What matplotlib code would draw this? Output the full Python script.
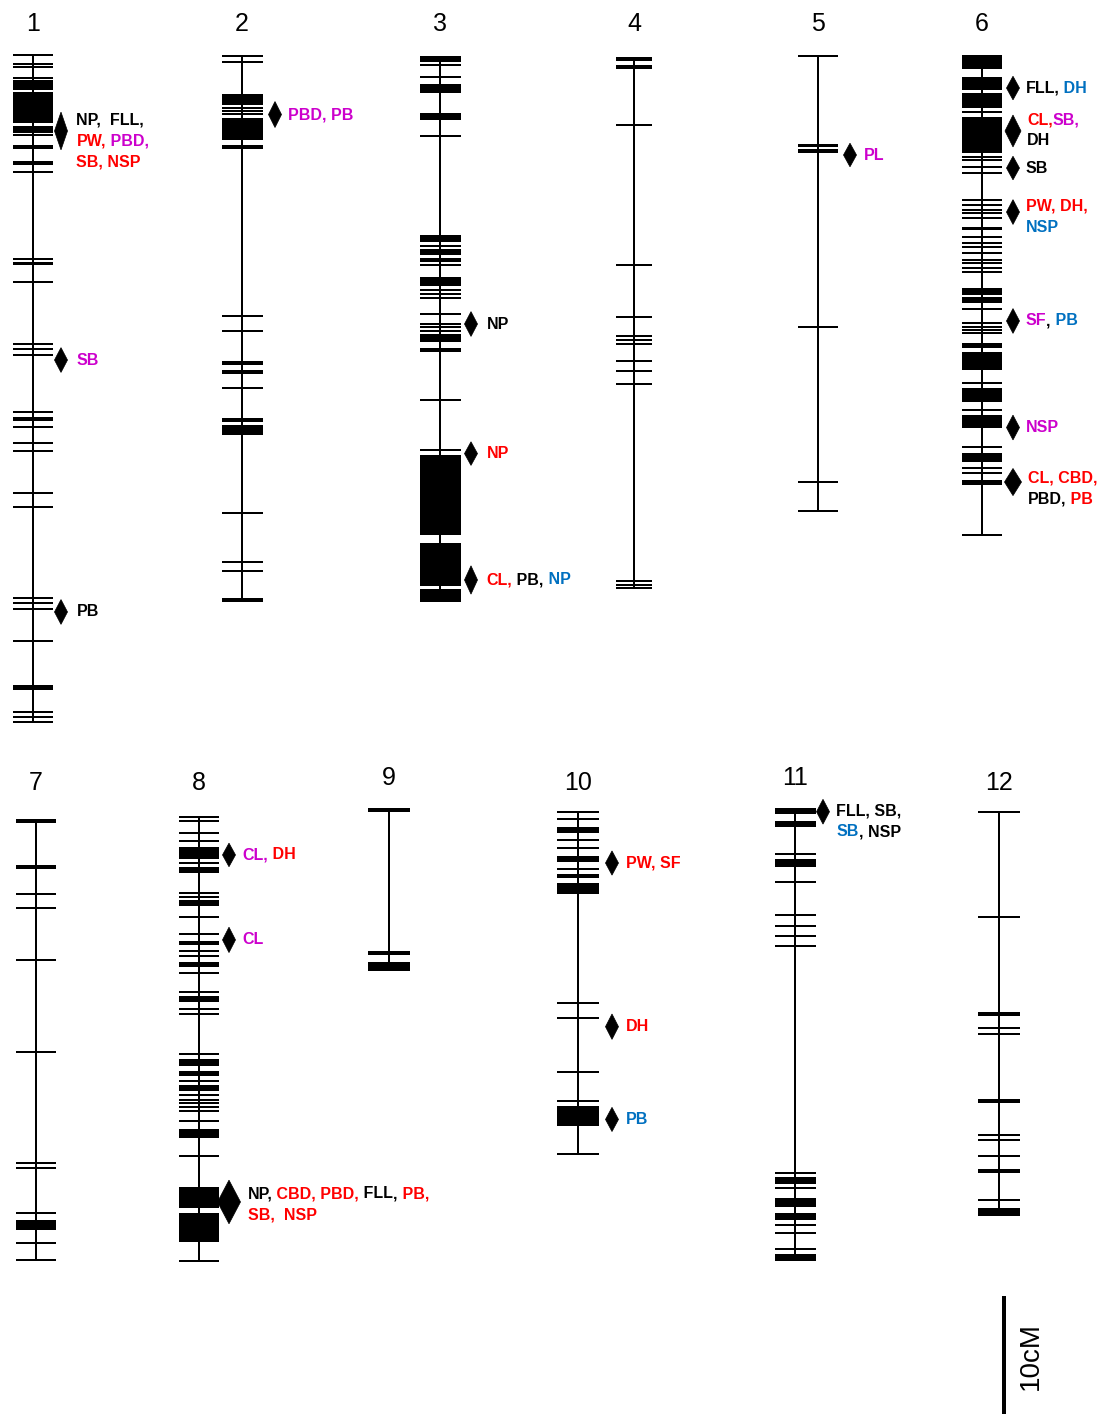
import matplotlib
matplotlib.use('Agg')
import matplotlib.pyplot as plt
from matplotlib.patches import Polygon, Rectangle

# ---- data: marker positions (cM from the top of each linkage group) ----
chr1_markers = [0, 0.8, 1.0, 1.97, 2.18, 2.35, 2.5, 2.69, 2.91, 6.08, 6.25, 6.4, 6.55, 6.78,
                7.75, 7.9, 9.05, 9.2, 9.89, 17.29, 17.6, 17.75, 19.21, 24.49, 24.94, 25.42,
                30.28, 30.8, 30.95, 31.55, 32.86, 33.53, 37.14, 38.28, 46.04, 46.47, 46.97,
                49.64, 53.45, 53.6, 53.75, 55.65, 56.08, 56.5]
chr1_blocks = [(3.11, 5.79)]

chr2_markers = [0, 0.5, 4.41, 4.65, 4.90, 7.66, 7.82, 22.07, 23.3, 25.92, 26.08, 26.67, 26.83,
                28.17, 30.77, 30.93, 38.7, 42.92, 43.64, 46.02, 46.18]
chr2_blocks = [(3.26, 4.19), (5.27, 7.12), (31.31, 32.08)]

chr3_markers = [0.70, 1.75, 6.71, 16.03, 17.72, 19.81, 20.12, 20.49, 21.87, 22.64, 22.96, 23.26,
                24.78, 24.94, 29.12, 33.34]
chr3_blocks = [(0, 0.46), (2.31, 3.08), (4.77, 5.39), (15.16, 15.71), (16.32, 16.79),
               (17.10, 17.41), (18.69, 19.47), (23.51, 24.19), (33.81, 40.52), (41.23, 44.84),
               (45.14, 46.22)]

chr4_markers = [0, 0.15, 0.67, 0.82, 5.64, 17.54, 21.96, 23.53, 23.9, 24.26, 25.71, 26.56, 27.62,
                44.32, 44.63, 44.93]
chr4_blocks = []

chr5_markers = [0, 7.5, 7.65, 8.0, 8.15, 23.0, 36.08, 38.53]
chr5_blocks = []

chr6_markers = [4.81, 8.62, 8.90, 9.47, 10.03, 12.29, 12.71, 13.14, 13.42, 13.84, 15.4, 15.96,
                16.25, 16.81, 17.37, 17.65, 18.08, 18.36, 21.55, 22.74, 23.03, 23.31, 23.58,
                27.82, 30.08, 33.19, 35.03, 35.4, 40.68]
chr6_blocks = [(0, 1.21), (1.84, 2.97), (3.25, 4.52), (5.23, 8.33), (14.55, 14.83), (19.77, 20.34),
               (20.48, 21.04), (24.43, 24.86), (25.14, 26.69), (28.25, 29.38), (30.51, 31.64),
               (33.75, 34.47), (36.02, 36.44)]

chr7_markers = [0, 0.15, 3.88, 4.04, 6.27, 7.48, 11.86, 19.69, 29.09, 29.52, 33.28, 35.87, 37.29]
chr7_blocks = [(33.9, 34.75)]

chr8_markers = [0, 0.36, 1.36, 2.06, 3.95, 6.49, 6.78, 8.53, 9.97, 10.6, 10.76, 11.36, 11.81,
                13.22, 14.83, 16.32, 16.72, 20.11, 22.37, 23.58, 24.01, 24.29, 24.63, 24.92,
                25.79, 28.75, 37.63]
chr8_blocks = [(2.59, 3.61), (4.29, 4.75), (7.06, 7.57), (12.29, 12.76), (15.19, 15.68),
               (20.56, 21.13), (21.53, 21.97), (22.74, 23.22), (26.49, 27.25), (31.36, 33.19),
               (33.56, 36.02)]

chr9_markers = [0, 0.15, 12.12, 12.28]
chr9_blocks = [(12.92, 13.68)]

chr10_markers = [0, 0.64, 2.4, 3.1, 4.88, 16.19, 17.51, 22.03, 24.49, 29.03]
chr10_blocks = [(1.27, 1.78), (3.75, 4.24), (5.31, 5.64), (6.02, 7.0), (24.92, 26.61)]

chr11_markers = [3.95, 6.32, 9.09, 10.0, 10.85, 11.72, 30.93, 32.25, 35.36, 36.02, 37.42]
chr11_blocks = [(0, 0.53), (1.13, 1.61), (4.35, 5.05), (31.27, 31.89), (33.1, 33.81),
                (34.37, 34.94), (37.85, 38.42)]

chr12_markers = [0, 8.95, 17.06, 17.22, 18.36, 18.84, 24.41, 24.57, 27.4, 27.82, 29.18, 30.37,
                 30.53, 32.91]
chr12_blocks = [(33.61, 34.26)]

# ---- QTLs: (position cM, interval cM, label lines of (text, colour key)) ----
chr1_qtl = [(6.44, 3.2, [[('NP,  FLL,', 'k')], [('PW,', 'r'), (' PBD,', 'm')], [('SB, NSP', 'r')]]),
            (25.85, 2.1, [[('SB', 'm')]]),
            (47.2, 2.1, [[('PB', 'k')]])]
chr2_qtl = [(4.96, 2.2, [[('PBD, PB', 'm')]])]
chr3_qtl = [(22.68, 2.1, [[('NP', 'k')]]),
            (33.66, 2.0, [[('NP', 'r')]]),
            (44.37, 2.4, [[('CL,', 'r'), (' PB,', 'k'), (' NP', 'b')]])]
chr4_qtl = []
chr5_qtl = [(8.39, 2.0, [[('PL', 'm')]])]
chr6_qtl = [(2.8, 2.0, [[('FLL,', 'k'), (' DH', 'b')]]),
            (6.44, 2.7, [[('CL,', 'r'), ('SB,', 'm')], [('DH', 'k')]]),
            (9.58, 2.0, [[('SB', 'k')]]),
            (13.31, 2.1, [[('PW, DH,', 'r')], [('NSP', 'b')]]),
            (22.54, 2.1, [[('SF', 'm'), (',', 'k'), (' PB', 'b')]]),
            (31.57, 2.1, [[('NSP', 'm')]]),
            (36.19, 2.3, [[('CL, CBD,', 'r')], [('PBD,', 'k'), (' PB', 'r')]])]
chr7_qtl = []
chr8_qtl = [(3.24, 2.0, [[('CL,', 'm'), (' DH', 'r')]]),
            (10.44, 2.15, [[('CL', 'm')]]),
            (32.65, 3.7, [[('NP,', 'k'), (' CBD, PBD,', 'r'), (' FLL', 'k'), (',', 'k'), (' PB,', 'r')],
                          [('SB,  NSP', 'r')]])]
chr9_qtl = []
chr10_qtl = [(4.35, 2.05, [[('PW, SF', 'r')]]),
             (18.22, 2.15, [[('DH', 'r')]]),
             (26.08, 2.05, [[('PB', 'b')]])]
chr11_qtl = [(0.34, 2.1, [[('FLL, SB,', 'k')], [('SB', 'b'), (', NSP', 'k')]])]
chr12_qtl = []

chrom_names = ['1', '2', '3', '4', '5', '6', '7', '8', '9', '10', '11', '12']
all_markers = [chr1_markers, chr2_markers, chr3_markers, chr4_markers, chr5_markers, chr6_markers,
               chr7_markers, chr8_markers, chr9_markers, chr10_markers, chr11_markers, chr12_markers]
all_blocks = [chr1_blocks, chr2_blocks, chr3_blocks, chr4_blocks, chr5_blocks, chr6_blocks,
              chr7_blocks, chr8_blocks, chr9_blocks, chr10_blocks, chr11_blocks, chr12_blocks]
all_qtl = [chr1_qtl, chr2_qtl, chr3_qtl, chr4_qtl, chr5_qtl, chr6_qtl,
           chr7_qtl, chr8_qtl, chr9_qtl, chr10_qtl, chr11_qtl, chr12_qtl]
scale_bar_cm = 10

# ---- layout (pixels) ----
W, H = 1099, 1414
PX_PER_CM = 11.8
chrom_x = [33, 242, 440, 634, 818, 982, 36, 199, 389, 578, 795, 999]
chrom_top = [55, 56, 56.4, 58, 56, 55, 820, 816.7, 809.3, 811.7, 807.7, 811.7]
half_w = [20, 20.5, 20.5, 18, 20, 20, 20, 20, 21, 21, 20.5, 21]
label_y = [24, 24, 24, 24, 24, 24, 783, 783, 778, 783, 778, 783]
diamond_dx = [28, 33, 31, 30, 32, 31, 30, 30, 30, 34, 28, 30]
text_gap = [9, 6, 9, 7, 7, 6, 7, 7, 7, 7, 7, 7]
wide_diamond = {(7, 2): 23, (5, 1): 16, (5, 6): 17}
label_shift = {(0, 0): -11, (5, 1): -11, (5, 3): -6, (5, 6): -4, (7, 2): -8, (10, 0): -1}
line_gap_px = 21
label_size = 11.5

colours = {'k': '#000000', 'r': '#FF0000', 'm': '#CC00CC', 'b': '#0070C0'}

fig = plt.figure(figsize=(W / 100, H / 100), dpi=100)
ax = fig.add_axes([0, 0, 1, 1])
ax.set_xlim(0, W)
ax.set_ylim(H / PX_PER_CM, 0)
ax.axis('off')

lw_px = 2.0
lw_pt = lw_px * 72 / 100

for i, name in enumerate(chrom_names):
    x = chrom_x[i]
    top = chrom_top[i] / PX_PER_CM
    hw = half_w[i]
    marks = all_markers[i]
    blocks = all_blocks[i]
    ends = list(marks) + [b[1] for b in blocks]
    length = max(ends)
    ax.plot([x, x], [top, top + length], color='black', lw=lw_pt, solid_capstyle='butt', zorder=2)
    ax.hlines([top + m for m in marks], x - hw, x + hw, color='black', lw=lw_pt, zorder=3)
    for b0, b1 in blocks:
        ax.add_patch(Rectangle((x - hw, top + b0), 2 * hw, b1 - b0, facecolor='black',
                               edgecolor='none', zorder=3))
    ax.text(x, label_y[i] / PX_PER_CM, name, ha='center', va='center', fontsize=18,
            family='Liberation Sans')

    for j, (pos, span, lines) in enumerate(all_qtl[i]):
        cx = x + diamond_dx[i]
        dw = wide_diamond.get((i, j), 13) / 2
        cy = top + pos
        hh = span / 2
        ax.add_patch(Polygon([(cx, cy - hh), (cx + dw, cy), (cx, cy + hh), (cx - dw, cy)],
                             closed=True, facecolor='black', edgecolor='black', lw=0.5, zorder=4))
        tx = cx + dw + text_gap[i]
        ty = cy + label_shift.get((i, j), 0) / PX_PER_CM
        for k, segs in enumerate(lines):
            yk = ty + k * line_gap_px / PX_PER_CM
            prev = None
            for s, c in segs:
                if prev is None:
                    prev = ax.text(tx, yk, s, ha='left', va='center', fontsize=label_size,
                                   fontweight='bold', color=colours[c], family='Liberation Sans')
                else:
                    prev = ax.annotate(s, xy=(1, 0), xycoords=prev, ha='left', va='bottom',
                                       fontsize=label_size, fontweight='bold', color=colours[c],
                                       family='Liberation Sans')

# scale bar
sb_top = 1296 / PX_PER_CM
ax.plot([1004, 1004], [sb_top, sb_top + scale_bar_cm], color='black', lw=4 * 72 / 100,
        solid_capstyle='butt')
ax.text(1031, 1356 / PX_PER_CM, '%dcM' % scale_bar_cm, rotation=90, ha='center',
        va='center', fontsize=20, family='Liberation Sans')

fig.savefig('out.png', dpi=100, facecolor='white')
